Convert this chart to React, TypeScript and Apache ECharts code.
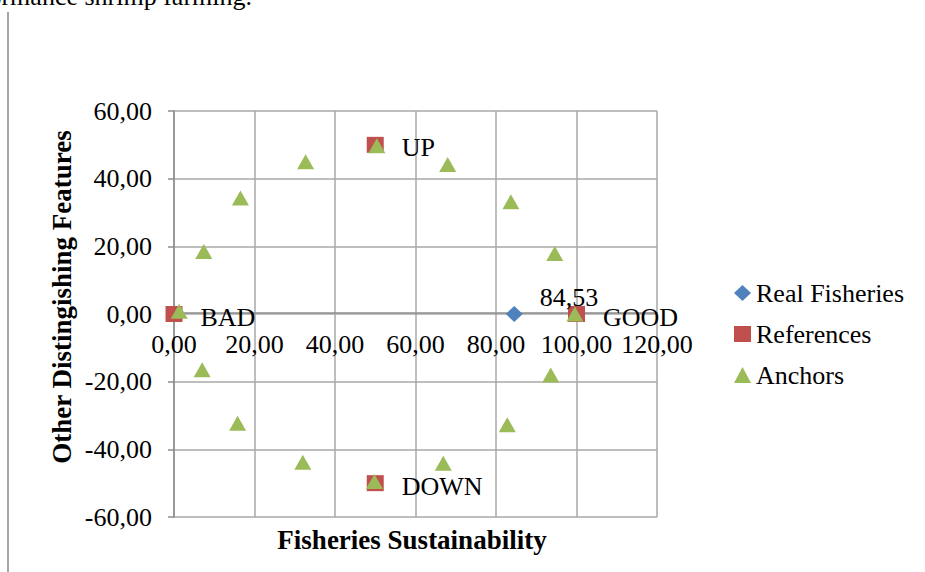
import React, { useEffect, useRef } from 'react';
import * as echarts from 'echarts';

const FONT = '"Liberation Serif", "Times New Roman", serif';

// ---- data ----
const xAxisRange = [0, 120];
const yAxisRange = [-60, 60];
const tickStep = 20;

const realFisheries: number[][] = [[84.53, 0]];

const referencePoints: number[][] = [
  [100, 0],
  [0, 0],
  [50, 50],
  [50, -50],
];
const referenceLabels = ['GOOD', 'BAD', 'UP', 'DOWN'];

const anchors: number[][] = [
  [1.3, 0.8],
  [7.4, 18.5],
  [16.5, 34.3],
  [32.7, 45.0],
  [50.4, 49.7],
  [68.0, 44.2],
  [83.7, 33.2],
  [94.6, 17.9],
  [99.6, 0],
  [93.6, -18.0],
  [82.8, -32.7],
  [66.9, -44.1],
  [49.8, -49.5],
  [32.0, -43.8],
  [15.8, -32.3],
  [7.0, -16.5],
];

const seriesNames = ['Real Fisheries', 'References', 'Anchors'];
const xTitle = 'Fisheries Sustainability';
const yTitle = 'Other Distingishing Features';
const pageText = 'performance shrimp farming.';

const fmt = (v: number) => v.toFixed(2).replace('.', ',');

export default function App() {
  const ref = useRef<HTMLDivElement>(null);
  useEffect(() => {
    const chart = echarts.init(ref.current!, null, { renderer: 'svg' });
    const labelBase = { fontSize: 26, color: '#000', fontFamily: FONT };
    chart.setOption({
      animation: false,
      backgroundColor: '#fff',
      textStyle: { fontFamily: FONT },
      grid: { left: 174, right: 268, top: 111, bottom: 55 },
      xAxis: {
        type: 'value',
        min: xAxisRange[0],
        max: xAxisRange[1],
        interval: tickStep,
        position: 'bottom',
        offset: -204,
        axisLine: { show: true, onZero: false, lineStyle: { color: '#8c8c8c', width: 1.5 } },
        axisTick: { show: false },
        axisLabel: { ...labelBase, margin: 18, formatter: fmt },
        splitLine: { show: true, lineStyle: { color: '#a8a8a8', width: 1.5 } },
      },
      yAxis: {
        type: 'value',
        min: yAxisRange[0],
        max: yAxisRange[1],
        interval: tickStep,
        axisLine: { show: true, onZero: false, lineStyle: { color: '#8c8c8c', width: 1.5 } },
        axisTick: { show: true, length: 6, lineStyle: { color: '#8c8c8c', width: 1.5 } },
        axisLabel: { ...labelBase, margin: 22, formatter: fmt },
        splitLine: { show: true, lineStyle: { color: '#a8a8a8', width: 1.5 } },
      },
      legend: {
        orient: 'vertical',
        left: 734,
        top: 280,
        padding: 0,
        itemWidth: 17,
        itemHeight: 16,
        itemGap: 15,
        data: seriesNames,
        textStyle: { ...labelBase },
      },
      series: [
        {
          name: seriesNames[0],
          type: 'scatter',
          data: realFisheries,
          symbol: 'diamond',
          symbolSize: [17, 16],
          clip: false,
          itemStyle: { color: '#4f81bd', opacity: 1 },
          label: {
            show: true,
            position: 'right',
            distance: 17,
            offset: [0, -17],
            ...labelBase,
            formatter: (p: any) => fmt(p.value[0]),
          },
          z: 3,
        },
        {
          name: seriesNames[1],
          type: 'scatter',
          data: referencePoints,
          symbol: 'rect',
          symbolSize: [17, 16],
          clip: false,
          itemStyle: { color: '#c0504d', opacity: 1 },
          label: {
            show: true,
            position: 'right',
            distance: 18,
            offset: [0, 3],
            ...labelBase,
            formatter: (p: any) => referenceLabels[p.dataIndex],
          },
          z: 3,
        },
        {
          name: seriesNames[2],
          type: 'scatter',
          data: anchors,
          symbol: 'triangle',
          symbolSize: [17, 15],
          clip: false,
          itemStyle: { color: '#9bbb59', opacity: 1 },
          z: 4,
        },
      ],
      graphic: [
        {
          type: 'line',
          shape: { x1: 8, y1: 12, x2: 8, y2: 572 },
          style: { stroke: '#8a8a8a', lineWidth: 1.5 },
        },
        {
          type: 'text',
          x: 252,
          y: -4,
          style: {
            text: pageText,
            align: 'right',
            verticalAlign: 'middle',
            fontSize: 26,
            fontFamily: FONT,
            fill: '#000',
          },
        },
        {
          type: 'text',
          x: 412,
          y: 540,
          style: {
            text: xTitle,
            align: 'center',
            verticalAlign: 'middle',
            fontSize: 27,
            fontWeight: 'bold',
            fontFamily: FONT,
            fill: '#000',
          },
        },
        {
          type: 'text',
          x: 62,
          y: 297,
          rotation: Math.PI / 2,
          style: {
            text: yTitle,
            align: 'center',
            verticalAlign: 'middle',
            fontSize: 27,
            fontWeight: 'bold',
            fontFamily: FONT,
            fill: '#000',
          },
        },
      ],
    });
    return () => chart.dispose();
  }, []);
  return (
    <div
      ref={ref}
      style={{ position: 'absolute', left: 0, top: 0, width: 925, height: 572, background: '#fff' }}
    />
  );
}
